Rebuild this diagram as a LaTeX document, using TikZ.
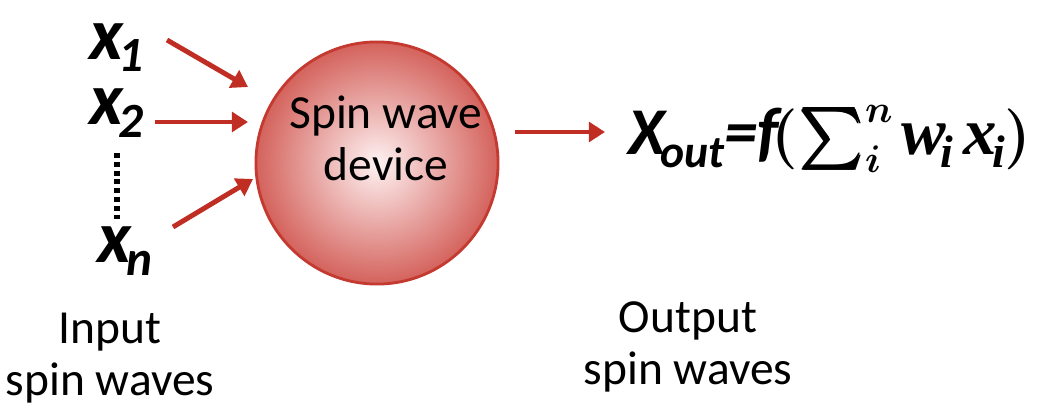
\documentclass[tikz,border=0pt]{standalone}
\usepackage{fontspec}
\setmainfont{Carlito}
\newfontfamily\serifbi{Liberation Serif}
\usepackage{amsmath}
\usepackage{bm}
\usetikzlibrary{arrows.meta, positioning}
\definecolor{WaveRed}{RGB}{192,45,35}
\definecolor{BallEdge}{RGB}{196,58,48}
\definecolor{BallOuter}{RGB}{212,98,92}
\definecolor{BallInner}{RGB}{254,242,242}
\newcommand{\lowsub}[2][12]{\kern-1.5pt\raisebox{-3.6pt}{\fontsize{#1}{#1}\selectfont #2}}

\begin{document}
\begin{tikzpicture}[x=0.01cm,y=-0.01cm,
    wavearrow/.style={-{Triangle[length=4.6pt,width=5.6pt]}, line width=1.4pt, WaveRed},
    inlabel/.style={font=\fontsize{21}{23}\selectfont\bfseries\itshape, inner sep=0pt, anchor=base west},
    caption/.style={font=\fontsize{13.5}{14.8}\selectfont, align=center, inner sep=0pt}]
  \useasboundingbox (0,0) rectangle (1047,406);

  % spin wave device
  \node[circle, draw=BallEdge, line width=0.8pt, inner color=BallInner, outer color=BallOuter,
        minimum size=2.42cm, inner sep=0pt] (dev) at (377,163) {};
  \node[caption] (devtxt) at (386,138) {Spin wave\\device};

  % inputs
  \node[inlabel] (x1) at (89,59) {x\lowsub[14]{1}};
  \node[inlabel] (x2) at (89,125) {x\lowsub[14]{2}};
  \node[inlabel] (xn) at (97,263) {x\lowsub[14]{n}};
  \coordinate (dtop) at (117,153);
  \coordinate (dbot) at (117,222);
  \draw[line width=1.5pt, dash pattern=on 1.4pt off 1.1pt] (dtop) -- (dbot);

  \coordinate (t1) at (167,40);  \coordinate (h1) at (248,87);
  \coordinate (t2) at (155,122); \coordinate (h2) at (248,122);
  \coordinate (t3) at (173,227); \coordinate (h3) at (253,179);
  \draw[wavearrow] (t1) -- (h1);
  \draw[wavearrow] (t2) -- (h2);
  \draw[wavearrow] (t3) -- (h3);

  % output
  \coordinate (to) at (515,132); \coordinate (ho) at (605,132);
  \draw[wavearrow] (to) -- (ho);
  \node[font=\fontsize{19}{22}\selectfont, inner sep=0pt, anchor=base west] (xout) at (628,155)
    {{\bfseries\itshape X\lowsub[13]{out}=f}\kern-2pt{\fontsize{16}{18}\selectfont$\bm{(\sum_{i}^{n}}$}\kern2pt%
     {\serifbi\bfseries\itshape w\lowsub[13]{i}\kern3pt x\lowsub[13]{i}}\kern0pt{\fontsize{16}{18}\selectfont$\bm{)}$}};

  \node[caption] (incap) at (110,358) {Input\\spin waves};
  \node[caption] (outcap) at (688,347) {Output\\spin waves};
\end{tikzpicture}
\end{document}
